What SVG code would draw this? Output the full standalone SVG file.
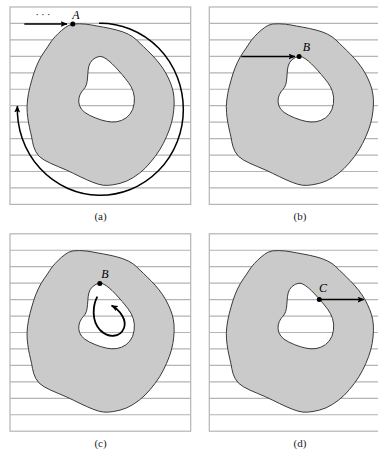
<svg xmlns="http://www.w3.org/2000/svg" xmlns:xlink="http://www.w3.org/1999/xlink" width="378" height="452" viewBox="0 0 378 452">
<style>
.grid{stroke:#b4b4b4;stroke-width:1.2;fill:none}
.shape{fill:#cacaca;stroke:#3a3a3a;stroke-width:1;fill-rule:evenodd}
.arr{fill:none;stroke:#000;stroke-width:1.5}
.dot{fill:#000}
.lbl{font-family:"Liberation Serif",serif;font-style:italic;font-size:12px;fill:#000}
.cap{font-family:"Liberation Serif",serif;font-size:11px;fill:#222;text-anchor:middle}
</style>
<defs>
<marker id="ah" markerUnits="userSpaceOnUse" markerWidth="8" markerHeight="7" refX="6.5" refY="3" orient="auto">
<path d="M0,0 L7,3 L0,6 L1.5,3 Z" fill="#000"/>
</marker>
<g id="panel">
<rect class="grid" x="10" y="7" width="180.7" height="197.4"/>
<path class="grid" d="M10 23.45H190.7M10 39.9H190.7M10 56.35H190.7M10 72.8H190.7M10 89.25H190.7M10 105.7H190.7M10 122.15H190.7M10 138.6H190.7M10 155.05H190.7M10 171.5H190.7M10 187.95H190.7"/>
<path class="shape" d="M68.5 25.5 Q72 23.5 79.35 23.75 Q86.7 24 91.7 25 Q96.7 26 103.35 27.15 Q110 28.3 116.65 30 Q123.3 31.7 128.3 34.2 Q133.3 36.7 136.65 40 Q140 43.3 143.5 46.65 Q147 50 151 54 Q155 58 159 63 Q163 68 165.75 73 Q168.5 78 170.5 83 Q172.5 88 173.4 93 Q174.3 98 174.15 104 Q174 110 172.85 116.65 Q171.7 123.3 169.2 130 Q166.7 136.7 163.35 143.35 Q160 150 155 156.65 Q150 163.3 145 168.3 Q140 173.3 133.35 177.5 Q126.7 181.7 120 183.35 Q113.3 185 108.3 185.35 Q103.3 185.7 98.3 184.2 Q93.3 182.7 86.65 179.7 Q80 176.7 73.35 173.35 Q66.7 170 58.35 166.65 Q50 163.3 44.15 160 Q38.3 156.7 35.8 151.7 Q33.3 146.7 32.5 141.7 Q31.7 136.7 30.6 132.35 Q29.5 128 28.6 123 Q27.7 118 27.2 112.35 Q26.7 106.7 27.5 100 Q28.3 93.3 30 86.65 Q31.7 80 33.6 74 Q35.5 68 38.25 62.15 Q41 56.3 44 52.15 Q47 48 49.5 44 Q52 40 55.15 36.65 Q58.3 33.3 61.65 30.4 Q65 27.5 68.5 25.5 Z M103 57 Q100 55.5 96 57.5 Q92 59.5 90.25 62.75 Q88.5 66 88.15 70 Q87.8 74 87.5 78 Q87.2 82 86.35 84.75 Q85.5 87.5 83.5 89.5 Q81.5 91.5 80 94.75 Q78.5 98 78.75 102 Q79 106 81.5 109.25 Q84 112.5 89.5 115.25 Q95 118 100.85 119.85 Q106.7 121.7 111.7 122 Q116.7 122.3 121.6 120.4 Q126.5 118.5 129.9 114.25 Q133.3 110 134.15 103.5 Q135 97 133.25 91.75 Q131.5 86.5 128.25 82.25 Q125 78 122 74.5 Q119 71 115.5 67.25 Q112 63.5 109 61 Q106 58.5 103 57 Z"/>
</g>
</defs>
<g id="panel-a">
<use xlink:href="#panel" href="#panel"/>
</g>
<g id="panel-b">
<use xlink:href="#panel" href="#panel" transform="translate(199.3,0)"/>
</g>
<g id="panel-c">
<use xlink:href="#panel" href="#panel" transform="translate(0,226.8)"/>
</g>
<g id="panel-d">
<use xlink:href="#panel" href="#panel" transform="translate(199.3,226.8)"/>
</g>
<g id="connectors">
<path class="arr" d="M24.3 24H67" marker-end="url(#ah)"/>
<path class="arr" d="M99 23.3 A83 86 0 1 1 17.4 106" marker-end="url(#ah)"/>
<path class="arr" d="M241.3 56.5H295" marker-end="url(#ah)"/>
<path class="arr" style="stroke-width:1.8" d="M97.3 296.7 C93 305 91 320 100 330 C108 338 120 338 124 328 C127 320 120 310 111.5 305.5" marker-end="url(#ah)"/>
<path class="arr" d="M319.3 299.6H364" marker-end="url(#ah)"/>
</g>
<g id="point-A">
<circle class="dot" cx="72.8" cy="24" r="2.5"/>
<text class="lbl" x="76" y="18.5" text-anchor="middle">A</text>
<text x="43" y="18" font-family="DejaVu Sans, sans-serif" font-size="9" text-anchor="middle" fill="#000">· · ·</text>
</g>
<g id="point-B-b">
<circle class="dot" cx="299.1" cy="56.6" r="2.5"/>
<text class="lbl" x="306.3" y="51" text-anchor="middle">B</text>
</g>
<g id="point-B-c">
<circle class="dot" cx="99.8" cy="283.4" r="2.5"/>
<text class="lbl" x="105" y="277.5" text-anchor="middle">B</text>
</g>
<g id="point-C">
<circle class="dot" cx="319.3" cy="299.6" r="2.5"/>
<text class="lbl" x="323" y="291.5" text-anchor="middle">C</text>
</g>
<g id="captions">
<text class="cap" x="100.5" y="220">(a)</text>
<text class="cap" x="300" y="220">(b)</text>
<text class="cap" x="100.5" y="447">(c)</text>
<text class="cap" x="300" y="447">(d)</text>
</g>
</svg>
